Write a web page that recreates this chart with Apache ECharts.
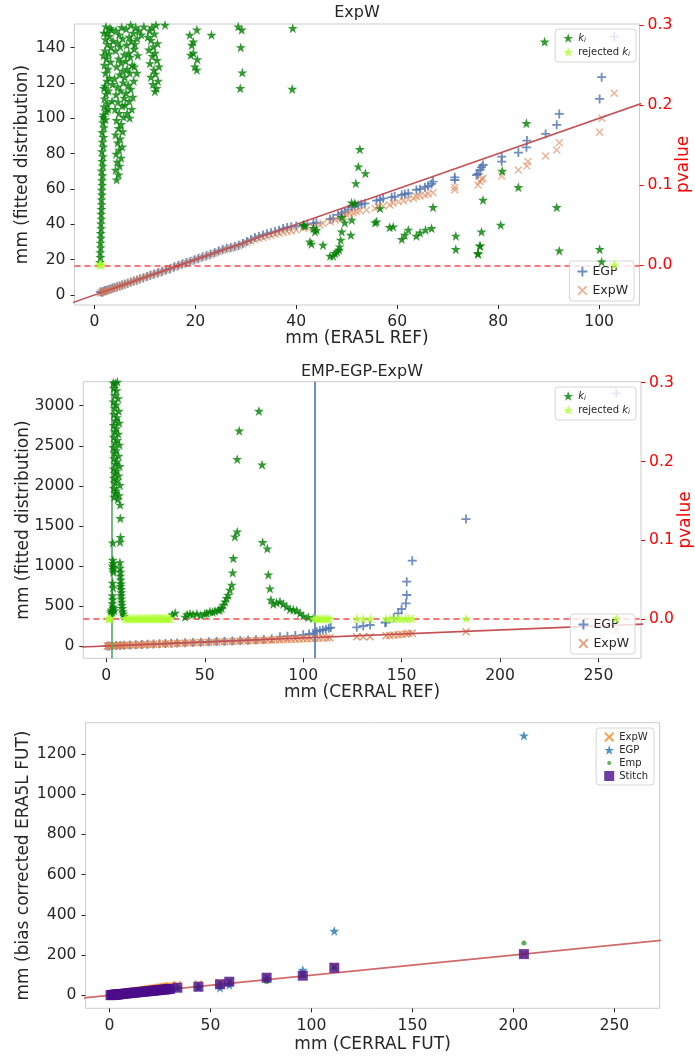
<!DOCTYPE html>
<html><head><meta charset="utf-8">
<script src="https://cdn.jsdelivr.net/npm/echarts@6.0.0/dist/echarts.min.js"></script>
<style>html,body{margin:0;padding:0;background:#fff}#c{width:695px;height:1056px}</style>
</head><body><div id="c"></div>
<script>
// ---------------- DATA ----------------
// Top panel (ERA5L REF, ExpW): left axis values [x, mm]
const egpTop = [[1.2,1.8],[1.5,1.6],[1.8,2.1],[2.1,2.5],[2.4,2.6],[2.8,3.1],[3.2,3.4],[3.6,3.9],[4.0,4.2],[4.5,4.6],[5.0,5.1],[5.5,5.7],[6.0,6.1],[6.6,6.6],[7.2,7.3],[7.8,7.9],[8.4,8.4],[9.0,9.1],[9.7,9.7],[10.4,10.5],[11.1,11.2],[11.8,11.8],[12.6,12.6],[13.4,13.3],[14.2,14.1],[15.0,14.9],[15.8,15.8],[16.6,16.7],[17.4,17.5],[18.2,18.3],[19.0,19.0],[19.8,19.8],[20.6,20.7],[21.4,21.5],[22.2,22.2],[23.0,23.0],[23.8,23.9],[24.6,24.9],[25.4,25.7],[26.2,26.4],[27.0,26.9],[27.8,27.5],[28.6,28.2],[29.4,29.1],[30.2,30.3],[31.0,31.4],[31.8,32.5],[32.6,33.3],[33.4,34.0],[34.2,34.7],[35.0,35.3],[35.8,35.9],[36.6,36.6],[37.4,37.6],[38.2,38.2],[39.0,38.7],[40.0,39.0],[41.4,39.5],[42.2,40.0],[43.4,40.6],[44.0,40.9],[46.7,42.9],[47.3,43.4],[48.3,45.3],[49.0,46.3],[49.6,47.2],[50.3,48.5],[51.0,49.7],[51.6,50.4],[52.3,51.0],[52.9,51.4],[53.6,51.9],[55.9,53.4],[56.6,53.8],[57.2,54.7],[58.9,55.3],[59.5,55.7],[60.9,56.6],[61.5,57.2],[62.2,57.6],[63.8,59.5],[64.5,59.9],[65.5,61.0],[66.1,61.7],[66.8,62.9],[67.1,64.2],[71.4,65.1],[71.4,66.6],[75.7,67.9],[76.0,68.5],[76.4,70.8],[76.7,72.3],[77.0,73.6],[80.7,75.5],[80.7,78.3],[84.0,80.6],[85.6,83.6],[85.7,87.4],[89.4,91.2],[91.6,96.3],[92.1,102.5],[100.1,111.0],[100.5,123.3],[103.0,146.3]];
const expwTop = [[1.2,1.2],[1.5,1.5],[1.8,1.9],[2.1,2.2],[2.4,2.5],[2.8,2.8],[3.2,3.2],[3.6,3.6],[4.0,4.0],[4.5,4.5],[5.0,5.0],[5.5,5.5],[6.0,6.0],[6.6,6.6],[7.2,7.2],[7.8,7.8],[8.4,8.4],[9.0,9.0],[9.7,9.7],[10.4,10.4],[11.1,11.1],[11.8,11.8],[12.6,12.5],[13.4,13.3],[14.2,14.1],[15.0,14.9],[15.8,15.7],[16.6,16.6],[17.4,17.4],[18.2,18.2],[19.0,19.0],[19.8,19.8],[20.6,20.6],[21.4,21.4],[22.2,22.1],[23.0,22.9],[23.8,23.7],[24.6,24.5],[25.4,25.3],[26.2,26.0],[27.0,26.6],[27.8,27.2],[28.6,27.9],[29.4,28.7],[30.2,29.6],[31.0,30.5],[31.8,31.3],[32.6,32.0],[33.4,32.6],[34.2,33.2],[35.0,33.8],[35.8,34.4],[36.6,35.0],[37.4,35.5],[38.2,35.9],[39.0,36.2],[40.0,36.8],[41.4,37.8],[42.0,38.7],[43.4,38.7],[44.7,39.6],[45.3,40.6],[46.7,41.5],[47.7,42.5],[48.6,43.4],[49.3,44.7],[50.0,45.3],[50.6,46.3],[51.3,46.6],[51.9,47.2],[52.6,47.7],[53.9,48.1],[55.6,49.1],[56.2,50.0],[57.2,50.4],[58.5,51.0],[59.2,51.9],[60.2,52.8],[61.2,53.4],[62.2,54.2],[63.2,54.7],[63.8,55.7],[64.5,56.1],[65.5,56.6],[66.1,57.2],[67.1,57.9],[71.4,59.5],[71.4,61.0],[76.0,62.3],[76.4,64.2],[76.7,65.5],[77.0,66.1],[80.7,67.4],[84.0,70.8],[85.7,73.0],[85.9,75.5],[89.4,78.7],[91.6,82.1],[92.1,86.2],[100.1,92.1],[100.6,100.0],[103.0,114.2]];
// Top panel k_i (pvalue on right axis) [x, p]
const kiTop = [
[1.1,0.004],[1.2,0.010],[1.15,0.016],[1.25,0.022],[1.2,0.028],[1.3,0.034],[1.25,0.040],[1.35,0.046],[1.3,0.052],[1.4,0.058],[1.35,0.064],[1.4,0.070],[1.45,0.076],[1.4,0.082],[1.5,0.088],[1.45,0.094],[1.55,0.100],[1.5,0.106],[1.6,0.112],[1.45,0.118],[1.65,0.124],[1.55,0.130],[1.7,0.136],[1.5,0.142],[1.75,0.148],[1.6,0.154],[1.8,0.160],[1.55,0.166],
[1.9,0.172],[1.7,0.178],[2.2,0.182],[1.8,0.188],[2.4,0.192],[1.9,0.198],[2.6,0.202],[2.0,0.208],[2.3,0.214],[2.8,0.218],[2.1,0.224],[2.5,0.230],[3.0,0.234],[2.2,0.240],[2.7,0.245],[2.0,0.250],[3.2,0.254],[2.4,0.258],[2.9,0.264],[2.1,0.268],[3.3,0.272],[2.6,0.276],[2.2,0.282],[3.0,0.286],[2.5,0.290],[3.4,0.294],[2.3,0.298],[2.8,0.302],
[1.7,0.185],[2.7,0.195],[3.5,0.205],[1.9,0.221],[3.6,0.226],[1.8,0.262],[3.7,0.280],[3.1,0.296],[1.9,0.290],
[4.4,0.107],[4.8,0.113],[4.2,0.119],[5.0,0.124],[4.5,0.129],[5.3,0.134],[4.3,0.139],[4.9,0.144],[5.5,0.148],[4.6,0.153],[5.1,0.158],[4.2,0.163],[5.6,0.167],[4.8,0.171],[5.3,0.176],[4.4,0.181],[5.8,0.185],[4.9,0.190],[4.1,0.195],[5.5,0.199],[4.7,0.204],[5.9,0.209],[4.3,0.213],[5.2,0.218],[4.6,0.223],[5.7,0.228],[4.0,0.233],[5.0,0.238],[5.6,0.243],[4.4,0.248],[5.3,0.253],[4.8,0.258],[5.9,0.263],[4.2,0.268],[5.1,0.273],[4.6,0.278],[5.6,0.283],[4.9,0.288],[4.3,0.293],[5.4,0.297],[4.7,0.302],
[7.0,0.184],[6.5,0.190],[7.4,0.195],[6.1,0.200],[6.9,0.205],[7.6,0.210],[6.3,0.215],[7.2,0.220],[6.7,0.225],[7.8,0.230],[6.0,0.235],[7.0,0.240],[6.5,0.245],[7.5,0.250],[6.2,0.255],[7.1,0.260],[6.8,0.265],[7.9,0.270],[6.4,0.275],[7.3,0.280],[6.9,0.285],[7.7,0.290],[6.3,0.295],[7.2,0.300],[8.2,0.297],[8.8,0.293],[9.3,0.288],[8.5,0.283],[9.8,0.298],[8.0,0.276],[8.6,0.262],[7.9,0.248],[8.4,0.240],
[12.0,0.217],[12.3,0.221],[11.6,0.226],[12.6,0.230],[11.2,0.235],[12.1,0.239],[11.8,0.244],[12.8,0.248],[11.0,0.252],[12.4,0.256],[11.5,0.261],[12.0,0.265],[10.8,0.269],[11.7,0.273],[12.5,0.277],[11.2,0.281],[10.6,0.285],[11.9,0.289],[10.9,0.293],[11.4,0.297],[12.2,0.300],
[14.0,0.300],[18.9,0.2875],[19.3,0.275],[19.6,0.279],[20.3,0.294],[19.9,0.248],[20.3,0.244],[19.6,0.265],[20.4,0.257],[19.1,0.2625],[23.2,0.2875],[28.5,0.298],[29.2,0.294],[29.0,0.272],[29.3,0.2405],[28.9,0.221],[39.3,0.296],[39.2,0.220],
[52.6,0.1448],[52.3,0.1231],[53.7,0.1148],[51.8,0.1023],[50.96,0.0782],[51.6,0.0774],[56.6,0.0711],[67.1,0.0724],[41.4,0.0503],[41.7,0.0490],[49.0,0.0599],[51.0,0.0566],[49.6,0.0532],[55.9,0.0545],[55.6,0.0532],[58.5,0.0474],[59.2,0.0482],[43.4,0.0462],[44.0,0.0441],[43.7,0.0419],[49.0,0.0419],[62.2,0.0441],[61.5,0.0378],[60.9,0.0325],[63.8,0.0366],[64.5,0.0407],[65.6,0.0441],[66.8,0.0462],[50.8,0.0378],[42.7,0.0295],[43.0,0.0266],[45.3,0.0253],[48.6,0.0232],[48.8,0.0316],[48.5,0.0191],[48.1,0.0170],[47.7,0.0150],[46.7,0.0116],[47.3,0.0116],[71.6,0.0366],[71.6,0.0200],[76.0,0.0150],[76.4,0.0245],
[85.6,0.1773],[80.8,0.1177],[84.0,0.0974],[77.0,0.0815],[91.6,0.0724],[80.5,0.0503],[76.7,0.0419],[76.4,0.0241],[76.0,0.0141],[92.1,0.0182],[100.1,0.0200],[100.5,0.0045],[89.2,0.279]];
const rejTop = [[1.0,0.0005],[1.2,0.001],[1.4,0.0005],[103.0,0.0008]];

// Middle panel (CERRAL REF, EMP-EGP-ExpW)
const egpMid = [[0.5,0.5],[1.5,1.5],[3,3],[5,5],[7,7],[9,9],[12,12],[15,15],[18,18],[21,21],[24,24],[27,27],[30,30],[33,33],[36,36],[40,40],[44,44],[48,48],[52,52],[56,56],[60,60],[64,64],[68,68],[72,72],[76,77],[80,82],[84,90],[88.2,116],[92,122],[96,130],[100,140],[103,150],[105.1,158],[106.9,179],[108.5,191],[110,200],[111.5,210],[113,222],[114,230],[127.2,233],[130.5,250],[134,262],[141.6,291],[142.1,296],[146,350],[148.3,408],[150,462],[152.2,533],[152.6,637],[152.6,803],[155.4,1065],[182.7,1585],[259,3155]];
const expwMid = [[0.5,0.4],[1,0.9],[1.5,1.4],[2,1.8],[3,2.7],[4,3.6],[5,4.5],[6,5.4],[7,6.3],[8,7.2],[9,8.1],[10,9],[11.5,10.3],[13,11.7],[14.5,13],[16,14.4],[17.5,15.8],[19,17.1],[20.5,18.5],[22,19.8],[24,21.6],[26,23.4],[28,25.2],[30,27],[32,28.8],[34,30.6],[36,32.4],[38,34.2],[40,36],[42,37.8],[44,39.6],[46,41.4],[48,43.2],[50,45],[52,46.8],[54,48.6],[56,50.4],[58,52.2],[60,54],[62,55.8],[64,57.6],[66,59.4],[68,61.2],[70,63],[72,64.8],[74,66.6],[76,68.4],[78,70.2],[80,72],[82,73.8],[84,75.6],[86,77.4],[88,79.2],[90,81],[92,82.8],[94,84.6],[96,86.4],[98,88.2],[100,90],[102,91.8],[104,93.6],[106,95.4],[108,97.2],[110,99],[112,100.8],[113.5,102],[127.2,116],[130.5,116],[134,116],[142.1,129],[144,132],[146,136],[148.3,140],[150,143],[152.2,150],[153.5,155],[155.4,159],[182.7,179],[259,200]];
const kiMid = [
[3.5,0.300],[4.6,0.299],[5.6,0.301],[3.8,0.293],[5.2,0.290],[4.4,0.284],[6.0,0.280],[3.6,0.276],[5.0,0.272],[4.2,0.268],[6.3,0.264],[3.9,0.260],[5.4,0.256],[4.7,0.252],[6.6,0.249],[3.7,0.246],[5.1,0.242],[4.3,0.238],[6.1,0.235],[3.8,0.231],[5.6,0.227],[4.5,0.224],[6.7,0.221],[3.6,0.218],[5.0,0.214],[4.1,0.211],[6.2,0.207],[3.9,0.204],[5.4,0.200],[4.6,0.197],[6.8,0.194],[3.7,0.191],[5.2,0.188],[4.4,0.185],[6.3,0.182],[3.8,0.179],[5.5,0.176],[4.2,0.173],[6.9,0.170],[3.9,0.166],[5.1,0.163],[4.6,0.160],[6.5,0.157],[4.0,0.155],[5.8,0.152],
[7.0,0.145],[7.1,0.128],[7.2,0.104],[7.0,0.098],[3.3,0.097],
[3.3,0.075],[3.5,0.071],[3.2,0.068],[3.6,0.066],[3.4,0.063],[3.5,0.060],[3.2,0.046],[3.4,0.040],[3.1,0.030],[3.3,0.025],[3.0,0.020],[3.5,0.016],[2.7,0.012],[3.8,0.014],[2.2,0.010],[4.0,0.011],[3.1,0.009],[2.5,0.007],
[6.9,0.072],[7.0,0.065],[7.2,0.060],[7.1,0.055],[7.3,0.050],[7.4,0.045],[7.2,0.042],[7.5,0.038],[7.6,0.034],[7.5,0.030],[7.7,0.026],[7.8,0.022],[7.9,0.018],[8.1,0.014],[8.3,0.010],[8.6,0.007],[9.0,0.004],
[33.5,0.006],[35,0.008],[40,0.003],[41,0.006],[42.5,0.007],[44,0.006],[46,0.007],[48,0.005],[50,0.007],[51,0.0076],[52.6,0.0097],[54,0.009],[55.2,0.0105],[56.9,0.0118],[57.7,0.012],[58.6,0.0139],[59.4,0.018],[60.3,0.0223],[61.1,0.0266],[61.9,0.0308],[62.8,0.0371],[63.7,0.0435],[64.2,0.059],[64.5,0.0773],[65.3,0.1047],[66.5,0.111],[66.5,0.203],[67.5,0.239],[77.5,0.264],[79.1,0.196],[79.4,0.0976],[81.8,0.0895],[82.3,0.0565],[83.1,0.0388],[83.6,0.0245],[84.8,0.0194],[86.5,0.021],[88.2,0.0223],[89.9,0.0194],[91.6,0.016],[93.3,0.0127],[95,0.012],[96.7,0.0109],[98.4,0.0076],[100.1,0.0042],[102.6,0.0025],[105.1,0.0013]];
const rejMid = [[1.0,0.001],[1.5,0.0005],[2.0,0.001],[9.5,0.0008],[10.5,0.0005],[11.5,0.0008],[12.5,0.0005],[13.5,0.0008],[14.5,0.0005],[15.5,0.0008],[16.5,0.0005],[17.5,0.0008],[18.5,0.0005],[19.5,0.0008],[20.5,0.0005],[21.5,0.0008],[22.5,0.0005],[23.5,0.0008],[24.5,0.0005],[25.5,0.0008],[26.5,0.0005],[27.5,0.0008],[28.5,0.0005],[29.5,0.0008],[30.5,0.0005],[31.5,0.0008],[32.5,0.0005],[105.5,0.0008],[106.5,0.0005],[107.5,0.0008],[108.5,0.0005],[109.5,0.0008],[110.5,0.0005],[111.5,0.0008],[112.5,0.0005],[113.5,0.0008],[127.2,0.0008],[130.5,0.0005],[134,0.0008],[142,0.0005],[144,0.0008],[146.5,0.0005],[148.3,0.0008],[150,0.0005],[152,0.0008],[153.5,0.0005],[155.4,0.0008],[182.7,0.0008],[259,0.0008]];
const thresholdsMid = [2.7, 105.8];

// Bottom panel (CERRAL FUT)
const expwBot = [[0.5,2.5],[1,3.5],[1.5,4],[2,5],[2.5,6],[3,6.5],[3.5,7.5],[4,8.5],[4.5,9],[5,10],[6,11.5],[7,13],[8,14.5],[9,16],[10,17.5],[11,19],[12,20.5],[13,22],[14,23.5],[15,25],[16,26.5],[17,28],[18,29.5],[19,31],[20,32.5],[21,34],[22,35.5],[23,37],[24,38.5],[25,40],[26,41.5],[27,43],[28,44.5],[29,46],[30,47.5],[33.6,52],[44,56],[54.7,62],[59.3,68],[77.8,90],[95.7,102],[111.3,142],[205.2,204]];
const egpBot = [[0.5,0.8],[1,1.2],[2,2.2],[3,3.3],[4,4.4],[5,5.5],[6,6.5],[8,8.6],[10,10.7],[12,12.8],[14,14.9],[16,17],[18,19.1],[20,21.2],[22,23.3],[24,25.4],[26,27.5],[28,29.6],[30,31.7],[33.6,37],[44,41],[54.7,38],[59.3,52],[77.8,85],[95.7,126],[111.3,320],[205.2,1291]];
const empBot = [[0.5,0.8],[1,1.2],[2,2.2],[3,3.3],[4,4.4],[5,5.5],[6,6.6],[8,8.7],[10,10.9],[12,13],[14,15.1],[16,17.2],[18,19.3],[20,21.4],[22,23.4],[24,25.5],[26,27.6],[28,29.7],[30,31.8],[33.6,37.8],[44,42.8],[54.7,54.7],[59.3,67.6],[77.8,67],[95.7,97.5],[111.3,137],[205.2,260]];
const stitchBot = [[0.5,0.8],[1,1.2],[1.5,1.8],[2,2.3],[2.5,2.9],[3,3.4],[3.5,4],[4,4.5],[4.5,5],[5,5.6],[6,6.6],[7,7.7],[8,8.8],[9,9.8],[10,10.9],[11,12],[12,13],[13,14.1],[14,15.1],[15,16.2],[16,17.2],[17,18.2],[18,19.3],[19,20.3],[20,21.4],[21,22.4],[22,23.4],[23,24.5],[24,25.5],[25,26.6],[26,27.6],[27,28.7],[28,29.7],[29,30.8],[30,31.8],[33.6,37.8],[44,42.8],[54.7,54.7],[59.3,67.6],[77.8,87.5],[95.7,97.5],[111.3,137],[205.2,205]];

// 1:1 reference line endpoints (y = x)
const identityLine = [[-20,-20],[300,300]];

// Tick labels
const topXTicks = [0,20,40,60,80,100];
const topYTicks = [0,20,40,60,80,100,120,140];
const pTicks = [0.0,0.1,0.2,0.3];
const midXTicks = [0,50,100,150,200,250];
const midYTicks = [0,500,1000,1500,2000,2500,3000];
const botXTicks = [0,50,100,150,200,250];
const botYTicks = [0,200,400,600,800,1000,1200];

// ---------------- CHART ----------------
const F = 'DejaVu Sans';
const TXT = '#262626';
const PLUS = 'path://M4,0H6V4H10V6H6V10H4V6H0V4H4Z';
const CROSS = 'path://M1.3,0L5,3.7L8.7,0L10,1.3L6.3,5L10,8.7L8.7,10L5,6.3L1.3,10L0,8.7L3.7,5L0,1.3Z';
const STAR = 'path://M50,0L61.8,35.1L98.9,35.1L68.9,56.7L80.3,91.9L50,70.2L19.7,91.9L31.1,56.7L1.1,35.1L38.2,35.1Z';
const SMALLDOT = 'path://M0,0M10,10M7,5A2,2,0,1,1,6.99,4.8Z';

function xAx(grid, min, max, ticks, name, gap, margin) {
  return {type:'value', gridIndex:grid, min, max, name, nameLocation:'middle', nameGap:gap, nameMoveOverlap:false,
    nameTextStyle:{fontFamily:F, fontSize:17, color:TXT},
    axisLine:{show:false, onZero:false}, splitLine:{show:false},
    axisTick:{show:true, length:4, customValues:ticks, lineStyle:{color:TXT}},
    axisLabel:{customValues:ticks, margin, fontFamily:F, fontSize:15.6, color:TXT, formatter:v=>String(v)}};
}
function yAx(grid, min, max, ticks, name, gap) {
  return {type:'value', gridIndex:grid, position:'left', min, max, name, nameLocation:'middle', nameGap:gap, nameMoveOverlap:false,
    nameTextStyle:{fontFamily:F, fontSize:17, color:TXT},
    axisLine:{show:false, onZero:false}, splitLine:{show:false},
    axisTick:{show:true, length:4, customValues:ticks, lineStyle:{color:TXT}},
    axisLabel:{customValues:ticks, margin:9, fontFamily:F, fontSize:15.6, color:TXT, formatter:v=>String(v)}};
}
function pAx(grid) {
  return {type:'value', gridIndex:grid, position:'right', min:-0.0496, max:0.3012, name:'pvalue',
    nameLocation:'middle', nameGap:36, nameMoveOverlap:false, nameTextStyle:{fontFamily:F, fontSize:17, color:'#ff0000'},
    axisLine:{show:false, onZero:false}, splitLine:{show:false},
    axisTick:{show:true, length:4, customValues:pTicks, lineStyle:{color:'#ff0000'}},
    axisLabel:{customValues:pTicks, margin:8, fontFamily:F, fontSize:15.6, color:'#ff0000', formatter:v=>v.toFixed(1)}};
}
const LABELS = {ki_top:'{it|k}{sub|i}', rej_top:'rejected {it|k}{sub|i}', ki_mid:'{it|k}{sub|i}', rej_mid:'rejected {it|k}{sub|i}',
  egp_top:'EGP', expw_top:'ExpW', egp_mid:'EGP', expw_mid:'ExpW', expw_bot:'ExpW', egp_bot:'EGP', emp_bot:'Emp', stitch_bot:'Stitch'};
function legend(names, right, top, fs, gap, z) {
  return {data:names, orient:'vertical', right, top, z, itemWidth:10, itemHeight:10, itemGap:gap,
    padding:[4,6,4,8], backgroundColor:'rgba(255,255,255,0.8)', borderColor:'#d6d6d6', borderWidth:1, borderRadius:3,
    formatter:n=>LABELS[n], selectedMode:false,
    textStyle:{fontFamily:F, fontSize:fs, color:TXT,
      rich:{it:{fontFamily:F, fontStyle:'italic', fontSize:fs, color:TXT}, sub:{fontFamily:F, fontStyle:'italic', fontSize:fs*0.7, color:TXT, padding:[fs*0.5,0,0,0]}}}};
}
function sc(name, x, y, data, symbol, size, color, z) {
  return {type:'scatter', name, xAxisIndex:x, yAxisIndex:y, data, symbol, symbolSize:size, z, clip:true,
    itemStyle:{color}, emphasis:{disabled:true}, silent:true};
}
function ln(x, y, color, z) {
  return {type:'line', xAxisIndex:x, yAxisIndex:y, data:identityLine, symbol:'none', z, silent:true,
    lineStyle:{color, width:1.6}, clip:true};
}
const dashed = {silent:true, symbol:['none','none'], label:{show:false}, animation:false,
  lineStyle:{color:'rgba(255,40,40,0.85)', type:[6,4], width:1.5}, data:[{yAxis:0}]};

const botLegend = legend(['expw_bot','egp_bot',{name:'emp_bot', icon:SMALLDOT},'stitch_bot'], 41, 728, 10, 3, 20);

const option = {
  animation:false, backgroundColor:'#fff',
  title:[
    {text:'ExpW', left:357, top:5, textAlign:'center', padding:0, textStyle:{fontFamily:F, fontSize:16, fontWeight:'normal', color:TXT}},
    {text:'EMP-EGP-ExpW', left:362, top:364, textAlign:'center', padding:0, textStyle:{fontFamily:F, fontSize:16, fontWeight:'normal', color:TXT}}
  ],
  grid:[
    {left:74.5, top:24, width:565, height:281, show:true, borderColor:'#cccccc', borderWidth:1, outerBoundsMode:'none'},
    {left:83.3, top:381.7, width:557.7, height:276.6, show:true, borderColor:'#cccccc', borderWidth:1, outerBoundsMode:'none'},
    {left:85.5, top:722.7, width:574.1, height:285.6, show:true, borderColor:'#cccccc', borderWidth:1, outerBoundsMode:'none'}
  ],
  xAxis:[
    xAx(0, -3.94, 108.0, topXTicks, 'mm (ERA5L REF)', 25, 9),
    xAx(1, -11.7, 271.6, midXTicks, 'mm (CERRAL REF)', 26, 9.5),
    xAx(2, -11.9, 272.4, botXTicks, 'mm (CERRAL FUT)', 28, 9.5)
  ],
  yAxis:[
    yAx(0, -5.66, 153.4, topYTicks, 'mm (fitted distribution)', 43),
    pAx(0),
    yAx(1, -153.5, 3300, midYTicks, 'mm (fitted distribution)', 51),
    pAx(1),
    yAx(2, -64.6, 1355.6, botYTicks, 'mm (bias corrected ERA5L FUT)', 53)
  ],
  legend:[
    legend(['ki_top','rej_top'], 59, 29, 10, 3, 20),
    legend(['egp_top','expw_top'], 61, 261, 12.5, 6, 8),
    legend(['ki_mid','rej_mid'], 59, 387, 10, 3, 20),
    legend(['egp_mid','expw_mid'], 60, 614, 12.5, 6, 8),
    botLegend
  ],
  series:[
    sc('egp_top', 0, 0, egpTop, PLUS, 9, '#4c72b0', 2),
    sc('expw_top', 0, 0, expwTop, CROSS, 8, 'rgba(221,132,82,0.75)', 3),
    ln(0, 0, '#c44e52', 4),
    Object.assign(sc('ki_top', 0, 1, kiTop, STAR, 10, '#008000', 10), {markLine:dashed}),
    sc('rej_top', 0, 1, rejTop, STAR, 10, '#adff2f', 11),

    sc('egp_mid', 1, 2, egpMid, PLUS, 9, '#4c72b0', 2),
    sc('expw_mid', 1, 2, expwMid, CROSS, 8, '#dd8452', 3),
    Object.assign(ln(1, 2, '#c44e52', 4), {markLine:{silent:true, symbol:['none','none'], label:{show:false}, animation:false,
      data:[{xAxis:thresholdsMid[0], lineStyle:{color:'#55a868', type:'solid', width:1.6}}, {xAxis:thresholdsMid[1], lineStyle:{color:'#4c72b0', type:'solid', width:1.6}}]}}),
    Object.assign(sc('ki_mid', 1, 3, kiMid, STAR, 10, '#008000', 10), {markLine:dashed}),
    sc('rej_mid', 1, 3, rejMid, STAR, 10, '#adff2f', 11),

    ln(2, 4, '#d06a6a', 1),
    sc('expw_bot', 2, 4, expwBot, CROSS, 8, '#ff7f0e', 2),
    sc('egp_bot', 2, 4, egpBot, STAR, 10, '#1f77b4', 3),
    sc('emp_bot', 2, 4, empBot, 'circle', 5, '#2ca02c', 4),
    sc('stitch_bot', 2, 4, stitchBot, 'rect', 10, '#4b0c8a', 5)
  ]
};
const chart = echarts.init(document.getElementById('c'), null, {renderer:'canvas'});
chart.setOption(option);
</script></body></html>
